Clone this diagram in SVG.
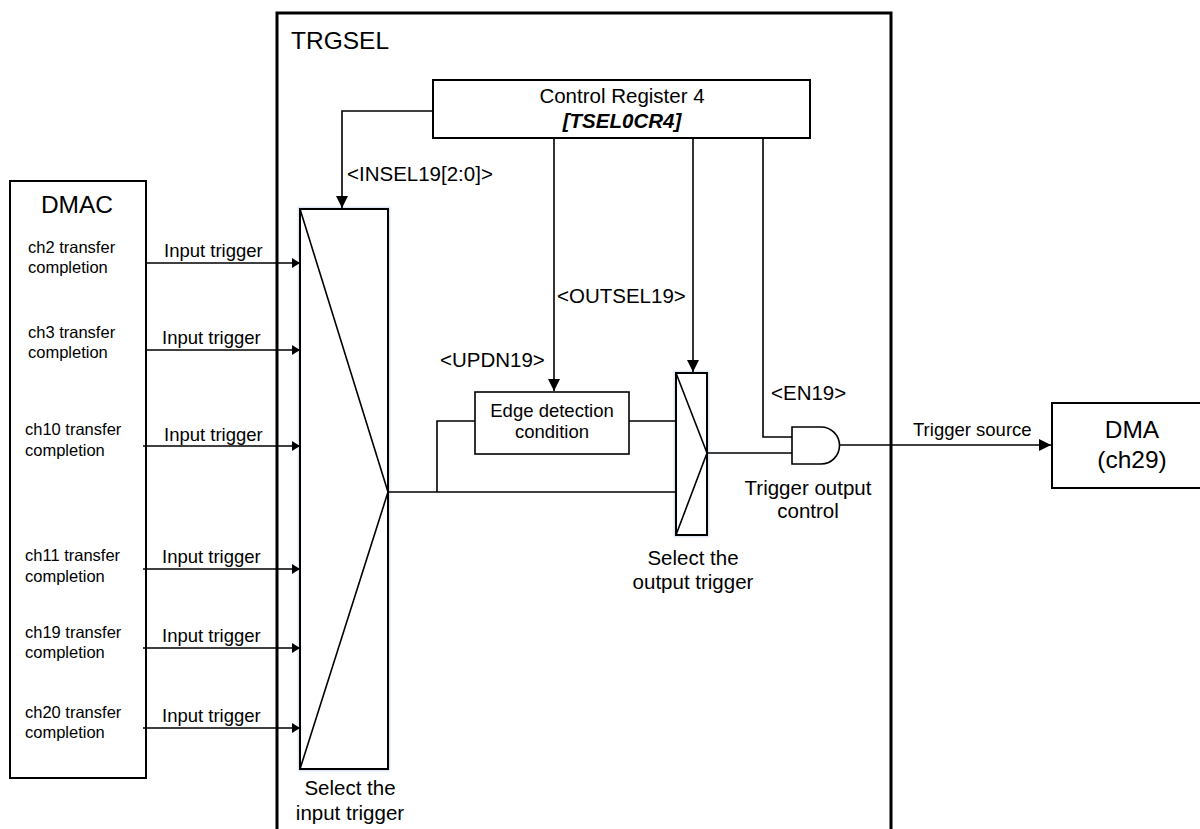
<svg xmlns="http://www.w3.org/2000/svg" width="1200" height="829" viewBox="0 0 1200 829">
<style>
text{font-family:"Liberation Sans",Arial,sans-serif;fill:#000}
.box{fill:#fff;stroke:#000;stroke-width:2}
.ln{fill:none;stroke:#000;stroke-width:1.6}
.ch{font-size:16.5px}
.it{font-size:18.5px}
.lb{font-size:20.5px}
.big{font-size:24.5px}
.mid{text-anchor:middle}
</style>
<defs>
<marker id="ah" markerUnits="userSpaceOnUse" viewBox="0 0 12 12" refX="12" refY="6" markerWidth="12" markerHeight="12" orient="auto"><path d="M0,0 L12,6 L0,12 z" fill="#000"/></marker>
<marker id="ahs" markerUnits="userSpaceOnUse" viewBox="0 0 8 10" refX="8" refY="5" markerWidth="8" markerHeight="10" orient="auto"><path d="M0,0 L8,5 L0,10 z" fill="#000"/></marker>
</defs>
<rect width="1200" height="829" fill="#fff"/>
<g id="trgsel">
<path d="M277,840 V13 H891 V840" fill="none" stroke="#000" stroke-width="3"/>
<text x="291" y="49" class="big">TRGSEL</text>
</g>
<g id="dmac">
<rect x="10" y="181" width="136" height="597" class="box"/>
<text x="77" y="213" class="big mid">DMAC</text>
<text x="28" y="253" class="ch">ch2 transfer</text><text x="28" y="273" class="ch">completion</text>
<text x="28" y="338" class="ch">ch3 transfer</text><text x="28" y="358" class="ch">completion</text>
<text x="25" y="435" class="ch">ch10 transfer</text><text x="25" y="456" class="ch">completion</text>
<text x="25" y="561" class="ch">ch11 transfer</text><text x="25" y="582" class="ch">completion</text>
<text x="25" y="638" class="ch">ch19 transfer</text><text x="25" y="658" class="ch">completion</text>
<text x="25" y="718" class="ch">ch20 transfer</text><text x="25" y="738" class="ch">completion</text>
</g>
<g id="ctrl">
<rect x="433" y="80" width="377" height="58" class="box"/>
<text x="622" y="103" class="lb mid">Control Register 4</text>
<text x="622" y="128" class="lb mid" font-weight="bold" font-style="italic">[TSEL0CR4]</text>
</g>
<g id="inmux">
<rect x="300" y="209" width="88" height="560" fill="none" stroke="#dfe9f5" stroke-width="5"/>
<rect x="300" y="209" width="88" height="560" class="box"/>
<path d="M300,209 L388,492 L300,769" class="ln" stroke-width="2"/>
<text x="350" y="795" class="lb mid">Select the</text>
<text x="350" y="820" class="lb mid">input trigger</text>
</g>
<g id="edge">
<rect x="475" y="392" width="154" height="62" fill="#fff" stroke="#000" stroke-width="1.6"/>
<text x="552" y="417" class="it mid">Edge detection</text>
<text x="552" y="438" class="it mid">condition</text>
</g>
<g id="outmux">
<rect x="676" y="373" width="31" height="162" fill="none" stroke="#dfe9f5" stroke-width="5"/>
<rect x="676" y="373" width="31" height="162" class="box"/>
<path d="M676,373 L707,453 L676,535" class="ln" stroke-width="2"/>
<text x="693" y="565" class="lb mid">Select the</text>
<text x="693" y="589" class="lb mid">output trigger</text>
</g>
<g id="andgate">
<path d="M792,427 H821 A18.5,18.5 0 0 1 821,464 H792 Z" fill="#fff" stroke="#000" stroke-width="1.6"/>
<text x="808" y="495" class="lb mid">Trigger output</text>
<text x="808" y="518" class="lb mid">control</text>
</g>
<g id="dma">
<rect x="1052" y="403" width="160" height="85" class="box" stroke-width="1.6"/>
<text x="1132" y="438" class="big mid">DMA</text>
<text x="1132" y="468" class="big mid">(ch29)</text>
</g>
<g id="connectors">
<path d="M146,263 H300" class="ln" marker-end="url(#ahs)"/>
<path d="M146,350 H300" class="ln" marker-end="url(#ahs)"/>
<path d="M143,446 H300" class="ln" marker-end="url(#ahs)"/>
<path d="M143,569 H300" class="ln" marker-end="url(#ahs)"/>
<path d="M143,648 H300" class="ln" marker-end="url(#ahs)"/>
<path d="M143,728 H300" class="ln" marker-end="url(#ahs)"/>
<text x="164" y="257" class="it">Input trigger</text>
<text x="162" y="344" class="it">Input trigger</text>
<text x="164" y="441" class="it">Input trigger</text>
<text x="162" y="563" class="it">Input trigger</text>
<text x="162" y="642" class="it">Input trigger</text>
<text x="162" y="722" class="it">Input trigger</text>
<path d="M433,111 H342 V208" class="ln" marker-end="url(#ah)"/>
<text x="347" y="181" class="lb">&lt;INSEL19[2:0]&gt;</text>
<path d="M554,138 V391" class="ln" marker-end="url(#ah)"/>
<text x="440" y="367" class="lb">&lt;UPDN19&gt;</text>
<path d="M693,138 V372" class="ln" marker-end="url(#ah)"/>
<text x="557" y="303" class="lb">&lt;OUTSEL19&gt;</text>
<path d="M763,138 V437 H792" class="ln"/>
<text x="771" y="400" class="lb">&lt;EN19&gt;</text>
<path d="M388,492 H676" class="ln"/>
<path d="M437,492 V421 H475" class="ln"/>
<path d="M629,421 H676" class="ln"/>
<path d="M707,453 H792" class="ln"/>
<path d="M839,445 H1051" class="ln" marker-end="url(#ah)"/>
<text x="913" y="436" class="it">Trigger source</text>
</g>
</svg>
